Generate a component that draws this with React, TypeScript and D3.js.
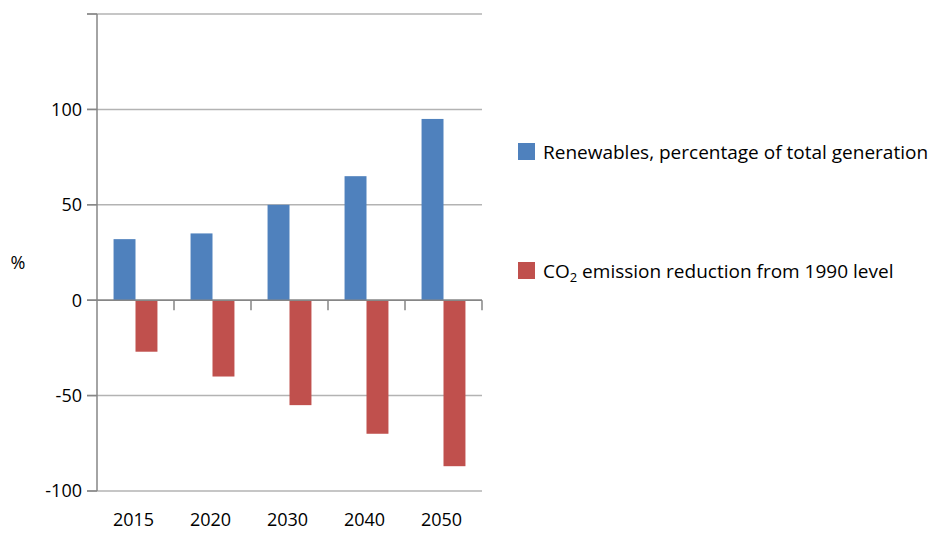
import * as d3 from 'd3';
import React from 'react';

// categories and series
const years = ['2015', '2020', '2030', '2040', '2050'];
const renewables = [32, 35, 50, 65, 95];
const co2Reduction = [-27, -40, -55, -70, -87];
const yTicks = [-100, -50, 0, 50, 100, 150];
const yLabels = [-100, -50, 0, 50, 100];

const seriesNames = ['renewables', 'co2'];
const colors: Record<string, string> = { renewables: '#4F81BD', co2: '#C0504D' };

const width = 930;
const height = 533;
const margin = { top: 14, right: 448, bottom: 42, left: 97 };
const font = '"Open Sans", "Noto Sans", sans-serif';

export default function App() {
  const x0 = d3
    .scaleBand<string>()
    .domain(years)
    .range([margin.left, width - margin.right])
    .paddingInner(0.43)
    .paddingOuter(0.215);

  const x1 = d3
    .scaleBand<string>()
    .domain(seriesNames)
    .range([0, x0.bandwidth()]);

  const y = d3
    .scaleLinear()
    .domain([-100, 150])
    .range([height - margin.bottom, margin.top]);

  const step = x0.step();
  const left = margin.left;
  const right = width - margin.right;

  const values: Record<string, number[]> = {
    renewables,
    co2: co2Reduction
  };

  return (
    <svg
      width={width}
      height={height}
      style={{ position: 'absolute', left: 0, top: 0 }}
      fontFamily={font}
    >
      {/* gridlines with their outer ticks */}
      {yTicks.map((t) => (
        <line
          key={`g${t}`}
          x1={left - 10}
          x2={right}
          y1={y(t)}
          y2={y(t)}
          stroke={t === 0 ? '#868686' : '#b3b3b3'}
          strokeWidth={1.5}
        />
      ))}
      {yTicks.map((t) => (
        <line
          key={`t${t}`}
          x1={left - 10}
          x2={left}
          y1={y(t)}
          y2={y(t)}
          stroke="#868686"
          strokeWidth={1.5}
        />
      ))}
      {yLabels.map((t) => (
        <text
          key={`l${t}`}
          x={left - 15}
          y={y(t)}
          dy="0.36em"
          textAnchor="end"
          fontSize={18}
          fill="#000"
        >
          {t}
        </text>
      ))}
      <text x={18} y={263} dy="0.36em" textAnchor="middle" fontSize={18}>
        %
      </text>

      {/* bars */}
      {years.map((yr, i) => (
        <g key={yr} transform={`translate(${x0(yr)},0)`}>
          {seriesNames.map((s) => {
            const v = values[s][i];
            return (
              <rect
                key={s}
                x={x1(s)}
                width={x1.bandwidth()}
                y={y(Math.max(0, v))}
                height={Math.abs(y(v) - y(0))}
                fill={colors[s]}
              />
            );
          })}
        </g>
      ))}

      {/* axes */}
      <line
        x1={left}
        x2={left}
        y1={y(150)}
        y2={y(-100)}
        stroke="#868686"
        strokeWidth={1.5}
      />
      <line x1={left} x2={right} y1={y(0)} y2={y(0)} stroke="#868686" strokeWidth={1.5} />
      {years.map((yr, i) => (
        <line
          key={`c${yr}`}
          x1={left + step * (i + 1)}
          x2={left + step * (i + 1)}
          y1={y(0)}
          y2={y(0) + 10}
          stroke="#868686"
          strokeWidth={1.5}
        />
      ))}
      {years.map((yr) => (
        <text
          key={`x${yr}`}
          x={(x0(yr) ?? 0) + x0.bandwidth() / 2 - 2}
          y={526}
          textAnchor="middle"
          fontSize={18}
        >
          {yr}
        </text>
      ))}

      {/* legend */}
      <rect x={518} y={143} width={17} height={17} fill={colors.renewables} />
      <text x={543} y={159} fontSize={19}>
        Renewables, percentage of total generation
      </text>
      <rect x={518} y={262} width={17} height={17} fill={colors.co2} />
      <text x={543} y={278} fontSize={19}>
        CO
        <tspan fontSize={13} dy={4}>
          2
        </tspan>
        <tspan dy={-4}> emission reduction from 1990 level</tspan>
      </text>
    </svg>
  );
}
